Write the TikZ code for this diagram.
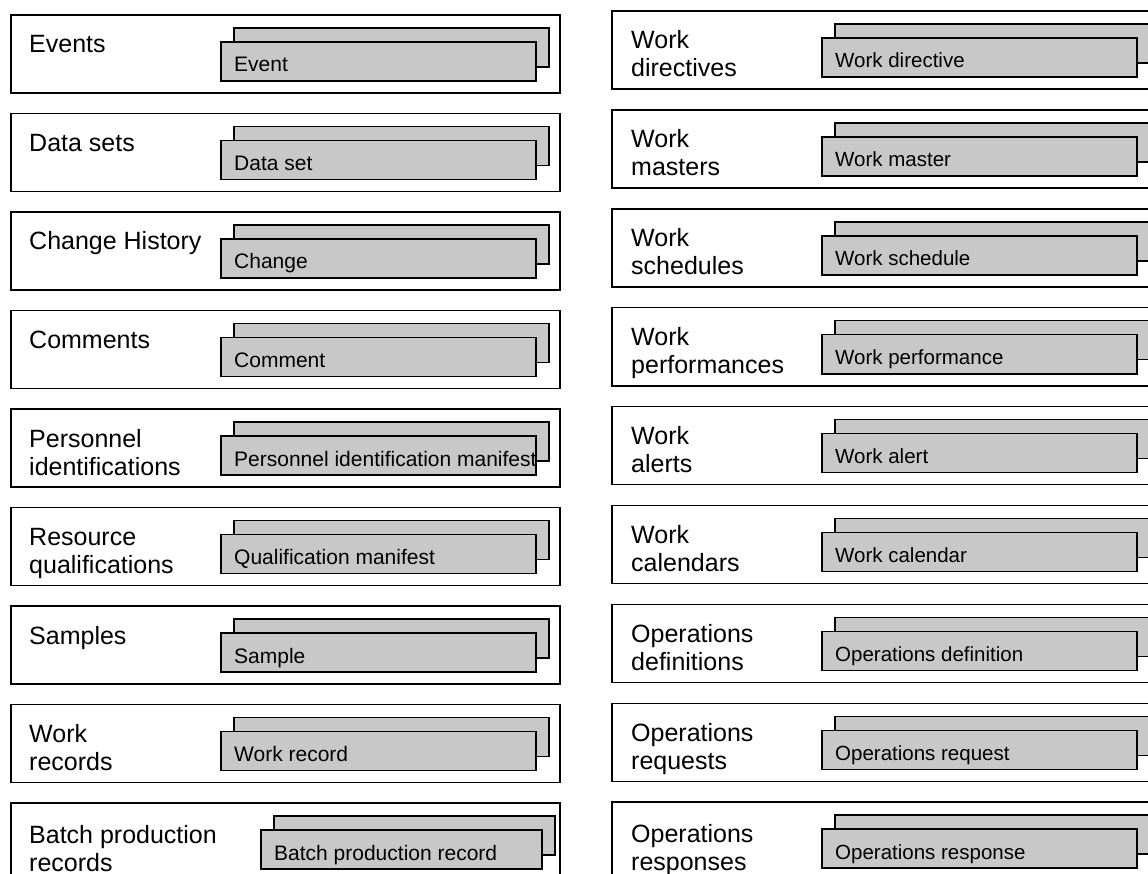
\documentclass[tikz,border=0pt]{standalone}
\usepackage{fontspec}
\setmainfont{Liberation Sans}
\definecolor{boxgray}{RGB}{200,200,200}
\newcommand{\twolines}[2]{\vtop{\baselineskip=28pt\hbox{#1}\hbox{#2}}}
\begin{document}
\begin{tikzpicture}[x=1pt,y=-1pt,
  outerbox/.style={draw=black, line width=1.6pt, anchor=north west, minimum height=78pt, inner sep=0pt, outer sep=0pt},
  backbox/.style={draw=black, fill=boxgray, line width=1.6pt, anchor=north west, minimum height=39pt, inner sep=0pt, outer sep=0pt},
  frontbox/.style={backbox},
  lab/.style={anchor=base west, font=\fontsize{25}{28}\selectfont, inner sep=0pt},
  itext/.style={anchor=base west, font=\fontsize{21}{24}\selectfont, inner sep=0pt},
  itextr/.style={itext, font=\fontsize{20.5}{24}\selectfont}]
\useasboundingbox (0,0) rectangle (1148,874);
\clip (0,0) rectangle (1148,874);
% left column
\foreach \laba/\labb/\inn/\fx/\fr/\ly [count=\i from 0] in {
  {Events}/{}/{Event}/221/536/38,
  {Data sets}/{}/{Data set}/221/536/38,
  {Change History}/{}/{Change}/221/536/38,
  {Comments}/{}/{Comment}/221/536/38,
  {Personnel}/{identifications}/{Personnel identification manifest}/221/536/38,
  {Resource}/{qualifications}/{Qualification manifest}/221/536/38,
  {Samples}/{}/{Sample}/221/536/38,
  {Work}/{records}/{Work record}/221/536/38,
  {Batch production}/{records}/{Batch production record}/261/542/40}{
  \pgfmathsetmacro{\t}{15+98.5*\i}
  \pgfmathsetmacro{\w}{\fr-\fx}
  \node[outerbox, minimum width=549pt] (L\i) at (11,\t) {};
  \node[backbox, minimum width=\w pt] (LB\i) at (\fx+13,\t+13) {};
  \node[frontbox, minimum width=\w pt] (LF\i) at (\fx,\t+27) {};
  \node[lab] (LL\i) at (29,\t+\ly) {\twolines{\laba}{\labb}};
  \node[itext] (LT\i) at (\fx+13,\t+57) {\inn};
}
% right column
\foreach \laba/\labb/\inn/\ly [count=\i from 0] in {
  {Work}/{directives}/{Work directive}/38,
  {Work}/{masters}/{Work master}/38,
  {Work}/{schedules}/{Work schedule}/38,
  {Work}/{performances}/{Work performance}/38,
  {Work}/{alerts}/{Work alert}/38,
  {Work}/{calendars}/{Work calendar}/38,
  {Operations}/{definitions}/{Operations definition}/38,
  {Operations}/{requests}/{Operations request}/38,
  {Operations}/{responses}/{Operations response}/40}{
  \pgfmathsetmacro{\t}{11+98.9*\i}
  \node[outerbox, minimum width=600pt] (R\i) at (612,\t) {};
  \node[backbox, minimum width=316pt] (RB\i) at (835,\t+13) {};
  \node[frontbox, minimum width=315pt] (RF\i) at (822,\t+27) {};
  \node[lab] (RL\i) at (631,\t+\ly) {\twolines{\laba}{\labb}};
  \node[itextr] (RT\i) at (835,\t+57) {\inn};
}
\end{tikzpicture}
\end{document}
